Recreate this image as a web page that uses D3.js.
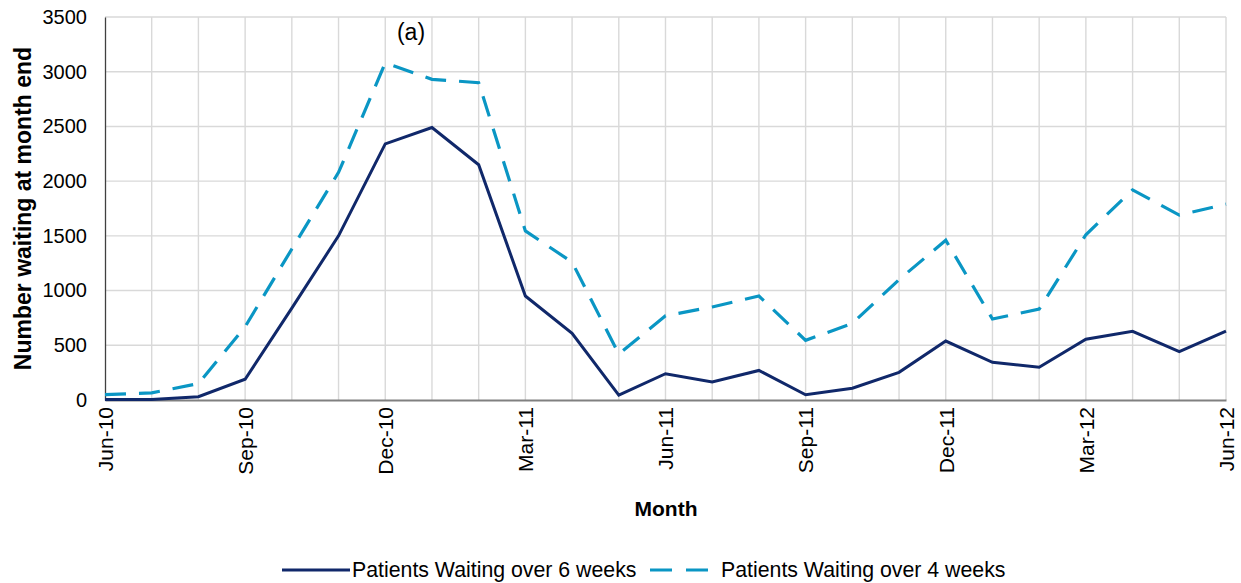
<!DOCTYPE html>
<html>
<head>
<meta charset="utf-8">
<script src="https://cdn.jsdelivr.net/npm/d3@7"></script>
<style>
  html, body { margin: 0; padding: 0; background: #fff; }
  svg { display: block; font-family: "Liberation Sans", Arial, sans-serif; }
</style>
</head>
<body>
<svg id="chart" width="1241" height="583"></svg>
<script>
const months = ["Jun-10","Jul-10","Aug-10","Sep-10","Oct-10","Nov-10","Dec-10","Jan-11","Feb-11","Mar-11","Apr-11","May-11","Jun-11","Jul-11","Aug-11","Sep-11","Oct-11","Nov-11","Dec-11","Jan-12","Feb-12","Mar-12","Apr-12","May-12","Jun-12"];
const over6Weeks = [5, 5, 30, 190, 840, 1500, 2340, 2490, 2150, 950, 610, 45, 240, 165, 270, 48, 107, 253, 539, 344, 299, 555, 628, 442, 630];
const over4Weeks = [50, 65, 150, 670, 1380, 2080, 3080, 2930, 2900, 1545, 1260, 420, 770, 850, 950, 545, 700, 1100, 1460, 740, 830, 1510, 1920, 1690, 1790];
const xTickLabels = ["Jun-10","Sep-10","Dec-10","Mar-11","Jun-11","Sep-11","Dec-11","Mar-12","Jun-12"];
const yTicks = [0, 500, 1000, 1500, 2000, 2500, 3000, 3500];
const seriesNames = ["Patients Waiting over 6 weeks", "Patients Waiting over 4 weeks"];

(function () {
const svg = d3.select("#chart");
const mLeft = 105, mRight = 1226, mTop = 17, mBottom = 400;

const x = d3.scalePoint().domain(months).range([mLeft, mRight]);
const y = d3.scaleLinear().domain([0, 3500]).range([mBottom, mTop]);

// gridlines
const grid = svg.append("g");
grid.selectAll("line.h").data(yTicks.filter(d => d > 0)).join("line")
  .attr("x1", mLeft).attr("x2", mRight)
  .attr("y1", d => y(d)).attr("y2", d => y(d))
  .attr("stroke", "#d9d9d9").attr("stroke-width", 1.4);
grid.selectAll("line.v").data(months.slice(1)).join("line")
  .attr("x1", d => x(d)).attr("x2", d => x(d))
  .attr("y1", mTop).attr("y2", mBottom)
  .attr("stroke", "#d9d9d9").attr("stroke-width", 1.4);

// y axis
const yAxis = svg.append("g").attr("transform", `translate(${mLeft},0)`)
  .call(d3.axisLeft(y).tickValues(yTicks).tickFormat(d3.format("d")).tickSize(0).tickPadding(18));
yAxis.select(".domain").attr("stroke", "#404040").attr("stroke-width", 1.3);
yAxis.selectAll("text").attr("font-size", 20).attr("fill", "#000")
  .attr("font-family", "Liberation Sans, Arial, sans-serif");

// x axis
const xAxis = svg.append("g").attr("transform", `translate(0,${mBottom})`)
  .call(d3.axisBottom(x).tickValues(xTickLabels).tickSize(0).tickPadding(7));
xAxis.select(".domain").attr("stroke", "#808080").attr("stroke-width", 1.8);
xAxis.selectAll("text")
  .attr("font-size", 21).attr("fill", "#000")
  .attr("font-family", "Liberation Sans, Arial, sans-serif")
  .attr("transform", "rotate(-90)")
  .attr("text-anchor", "end")
  .attr("x", -7).attr("y", 0).attr("dy", "0.35em");

// lines
const line = d3.line().x((d, i) => x(months[i])).y(d => y(d));
svg.append("path").datum(over4Weeks)
  .attr("d", line).attr("fill", "none")
  .attr("stroke", "#0a96c4").attr("stroke-width", 3.2)
  .attr("stroke-dasharray", "21,13");
svg.append("path").datum(over6Weeks)
  .attr("d", line).attr("fill", "none")
  .attr("stroke", "#10286a").attr("stroke-width", 3)
  .attr("stroke-linejoin", "miter");

// annotation
svg.append("text").attr("x", 411).attr("y", 40)
  .attr("text-anchor", "middle").attr("font-size", 23).text("(a)");

// axis titles
svg.append("text").attr("x", 666).attr("y", 516)
  .attr("text-anchor", "middle").attr("font-size", 21).attr("font-weight", "bold")
  .text("Month");
svg.append("text")
  .attr("transform", `translate(31,${(mTop + mBottom) / 2}) rotate(-90)`)
  .attr("text-anchor", "middle").attr("font-size", 23).attr("font-weight", "bold")
  .text("Number waiting at month end");

// legend
const lg = svg.append("g");
lg.append("line").attr("x1", 282).attr("x2", 350).attr("y1", 570).attr("y2", 570)
  .attr("stroke", "#10286a").attr("stroke-width", 3);
lg.append("text").attr("x", 352).attr("y", 577).attr("font-size", 21.3).text(seriesNames[0]);
lg.append("line").attr("x1", 650).attr("x2", 710).attr("y1", 570).attr("y2", 570)
  .attr("stroke", "#0a96c4").attr("stroke-width", 3.2).attr("stroke-dasharray", "22,14");
lg.append("text").attr("x", 721).attr("y", 577).attr("font-size", 21.3).text(seriesNames[1]);
})();
</script>
</body>
</html>
